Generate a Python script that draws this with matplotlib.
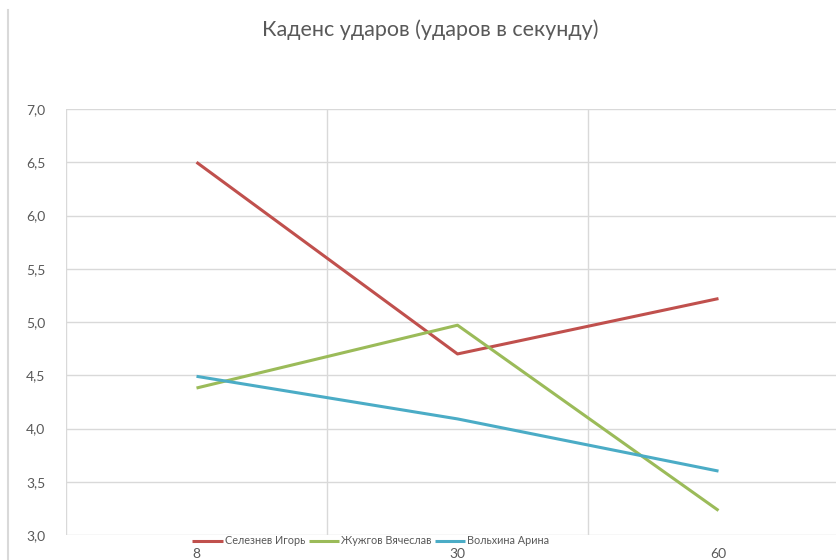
import matplotlib
matplotlib.use('Agg')
import matplotlib.pyplot as plt
import matplotlib.ticker as mtick
from matplotlib.lines import Line2D

# cadence of strikes per second, three athletes, three time marks
categories = ['8', '30', '60']
seleznev = [6.5, 4.7, 5.22]
zhuzhgov = [4.38, 4.97, 3.23]
volkhina = [4.49, 4.09, 3.6]
names = ['Селезнев Игорь', 'Жужгов Вячеслав', 'Вольхина Арина']
title = 'Каденс ударов (ударов в секунду)'

RED = '#C0504D'
GREEN = '#9BBB59'
AQUA = '#4BACC6'
GRID = '#D9D9D9'
TEXT = '#595959'

plt.rcParams['font.family'] = ['Lato', 'DejaVu Sans']

W, H = 837, 560
fig = plt.figure(figsize=(W / 100, H / 100), dpi=100)
# plot area runs past the right edge of the image
ax = fig.add_axes([66 / W, 1 - 535 / H, (849 - 66) / W, 426 / H])

x = range(len(categories))
for vals, col, name in zip([seleznev, zhuzhgov, volkhina], [RED, GREEN, AQUA], names):
    ax.plot(x, vals, color=col, lw=2.2, label=name, solid_capstyle='butt')

ax.set_xlim(-0.5, 2.5)
ax.set_ylim(3.0, 7.0)
ax.set_yticks([3.0 + 0.5 * i for i in range(9)])
ax.yaxis.set_major_formatter(mtick.FuncFormatter(lambda v, p: ('%.1f' % v).replace('.', ',')))
ax.set_xticks(list(x))
ax.set_xticklabels(categories)
ax.set_xticks([-0.5, 0.5, 1.5, 2.5], minor=True)

ax.grid(True, which='major', axis='y', color=GRID, lw=1)
ax.grid(True, which='minor', axis='x', color=GRID, lw=1)
ax.set_axisbelow(True)
for s in ax.spines.values():
    s.set_visible(False)
ax.tick_params(which='both', length=0, colors=TEXT, labelsize=10)
ax.tick_params(axis='y', pad=15)
ax.tick_params(axis='x', pad=9)

fig.text(430 / W, 1 - 30 / H, title, ha='center', va='center', fontsize=15.5, color=TEXT)

leg = fig.legend(loc='center', bbox_to_anchor=(371 / W, 1 - 541 / H), ncol=3, frameon=False,
                 fontsize=7.8, handlelength=2.8, handletextpad=0.2, columnspacing=0.3,
                 borderpad=0, labelcolor=TEXT)

# chart frame edge on the left
fig.add_artist(Line2D([8 / W, 8 / W], [0, 1 - 10 / H], color=GRID, lw=1.5))

fig.savefig('out.png', dpi=100)
